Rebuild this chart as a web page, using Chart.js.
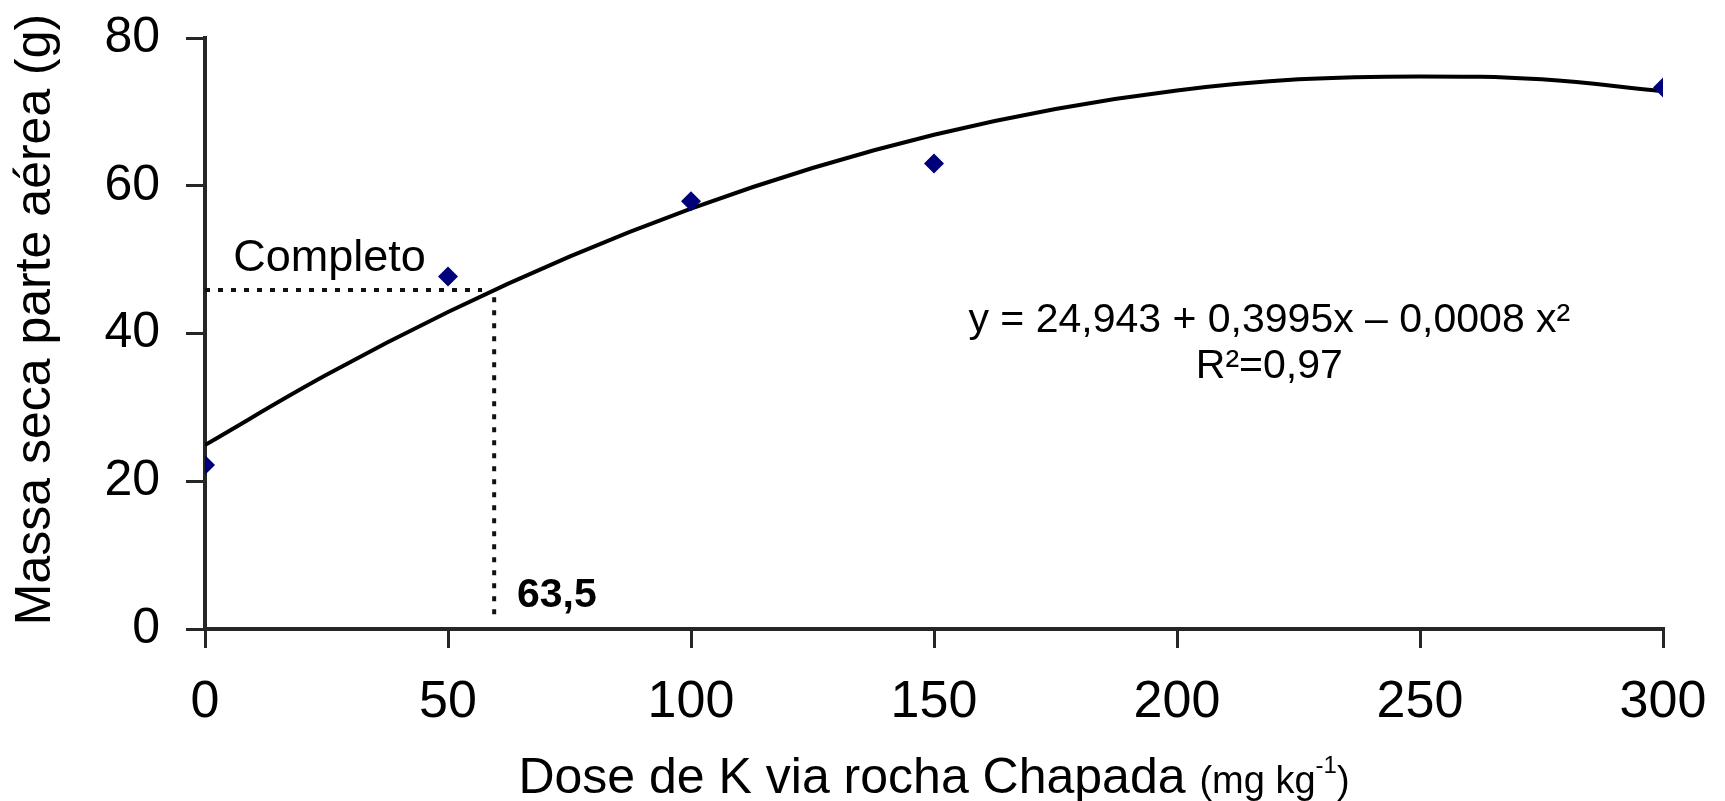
<!DOCTYPE html>
<html lang="pt">
<head>
  <meta charset="UTF-8" />
  <title>Massa seca parte aérea</title>
  <script src="https://cdn.jsdelivr.net/npm/chart.js"></script>
  <style>
    html, body { margin: 0; padding: 0; background: #fff; }
    #wrap { width: 1725px; height: 801px; position: relative; }
  </style>
</head>
<body>
  <div id="wrap"><canvas id="massaChart"></canvas></div>

  <script>
    // observed points: dose de K (mg kg-1) vs massa seca (g)
    const doses = [0, 50, 100, 150, 300];
    const massaSeca = [22.2, 47.7, 57.9, 63.0, 73.3];

    // fitted curve, every 25 mg
    const curveDoses = [0, 25, 50, 75, 100, 125, 150, 175, 200, 225, 250, 275, 300];
    const curveMassa = [24.9, 34.4, 42.9, 50.4, 56.9, 62.4, 66.9, 70.4, 72.9, 74.4, 74.8, 74.4, 72.8];

    // dotted guide lines ("Completo" -> 63,5)
    const guideHx = [0, 57];
    const guideHy = [45.9, 45.9];
    const guideVx = [59.5, 59.5];
    const guideVy = [44.9, 1.2];

    const xTicks = [0, 50, 100, 150, 200, 250, 300];
    const yTicks = [0, 20, 40, 60, 80];

    const FONT = '"Liberation Sans", Arial, sans-serif';
    const AXIS = '#262626';

    const pts = (xs, ys) => xs.map((v, i) => ({ x: v, y: ys[i] }));

    // keep the plot box where the reference has it
    function noScalePadding(s) {
      s.paddingTop = 0; s.paddingBottom = 0; s.paddingLeft = 0; s.paddingRight = 0;
    }

    // texts on the plot: labels, equation and both axis titles
    const annotations = {
      id: 'annotations',
      afterDraw(chart) {
        const { ctx, chartArea, scales: { x, y } } = chart;
        ctx.save();
        ctx.fillStyle = '#000';
        ctx.textBaseline = 'alphabetic';

        ctx.font = '45px ' + FONT;
        ctx.textAlign = 'left';
        ctx.fillText('Completo', x.getPixelForValue(5.8), y.getPixelForValue(48.4));

        ctx.font = 'bold 41px ' + FONT;
        ctx.fillText('63,5', x.getPixelForValue(64.2), y.getPixelForValue(3.0));

        ctx.font = '41px ' + FONT;
        ctx.textAlign = 'center';
        ctx.fillText('y = 24,943 + 0,3995x \u2013 0,0008 x\u00b2', x.getPixelForValue(219), y.getPixelForValue(40.2));
        ctx.fillText('R\u00b2=0,97', x.getPixelForValue(219), y.getPixelForValue(34.0));

        // x title with smaller unit part
        const main = 'Dose de K via rocha Chapada ';
        ctx.font = '50px ' + FONT; const w1 = ctx.measureText(main).width;
        ctx.font = '38px ' + FONT; const w2 = ctx.measureText('(mg kg').width;
        ctx.font = '24px ' + FONT; const w3 = ctx.measureText('-1').width;
        ctx.font = '38px ' + FONT; const w4 = ctx.measureText(')').width;
        let tx = (chartArea.left + chartArea.right) / 2 - (w1 + w2 + w3 + w4) / 2;
        const ty = 793;
        ctx.textAlign = 'left';
        ctx.font = '50px ' + FONT; ctx.fillText(main, tx, ty); tx += w1;
        ctx.font = '38px ' + FONT; ctx.fillText('(mg kg', tx, ty); tx += w2;
        ctx.font = '24px ' + FONT; ctx.fillText('-1', tx, ty - 20); tx += w3;
        ctx.font = '38px ' + FONT; ctx.fillText(')', tx, ty);

        // y title
        ctx.translate(36, (chartArea.top + chartArea.bottom) / 2 - 14);
        ctx.rotate(-Math.PI / 2);
        ctx.textAlign = 'center';
        ctx.textBaseline = 'middle';
        ctx.font = '50px ' + FONT;
        ctx.fillText('Massa seca parte a\u00e9rea (g)', 0, 0);
        ctx.restore();
      }
    };

    new Chart(document.getElementById('massaChart'), {
      type: 'scatter',
      data: {
        datasets: [
          {
            data: pts(doses, massaSeca),
            pointStyle: 'rectRot',
            pointRadius: 10,
            backgroundColor: '#00007a',
            borderColor: '#00007a',
            borderWidth: 0
          },
          {
            data: pts(curveDoses, curveMassa),
            showLine: true,
            tension: 0.4,
            pointRadius: 0,
            borderColor: '#000',
            borderWidth: 4
          },
          {
            data: pts(guideHx, guideHy),
            showLine: true,
            pointRadius: 0,
            borderColor: '#111',
            borderWidth: 4,
            borderDash: [5, 8]
          },
          {
            data: pts(guideVx, guideVy),
            showLine: true,
            pointRadius: 0,
            borderColor: '#111',
            borderWidth: 4,
            borderDash: [5, 8]
          }
        ]
      },
      options: {
        responsive: true,
        maintainAspectRatio: false,
        animation: false,
        layout: { padding: { top: 38, right: 62, left: 0, bottom: 0 } },
        plugins: { legend: { display: false }, tooltip: { enabled: false } },
        scales: {
          x: {
            type: 'linear',
            min: 0,
            max: 300,
            afterBuildTicks: s => { s.ticks = xTicks.map(v => ({ value: v })); },
            afterFit: s => { s.height = 172; noScalePadding(s); },
            border: { color: AXIS, width: 4 },
            grid: { drawOnChartArea: false, drawTicks: true, tickLength: 19, color: AXIS, lineWidth: 3 },
            ticks: { color: '#000', padding: 23, font: { family: FONT, size: 52 } }
          },
          y: {
            min: 0,
            max: 80,
            afterBuildTicks: s => { s.ticks = yTicks.map(v => ({ value: v })); },
            afterFit: s => { s.width = 205; noScalePadding(s); },
            border: { color: AXIS, width: 4 },
            grid: { drawOnChartArea: false, drawTicks: true, tickLength: 19, color: AXIS, lineWidth: 3 },
            ticks: { color: '#000', padding: 26, font: { family: FONT, size: 50 } }
          }
        }
      },
      plugins: [annotations]
    });
  </script>
</body>
</html>
